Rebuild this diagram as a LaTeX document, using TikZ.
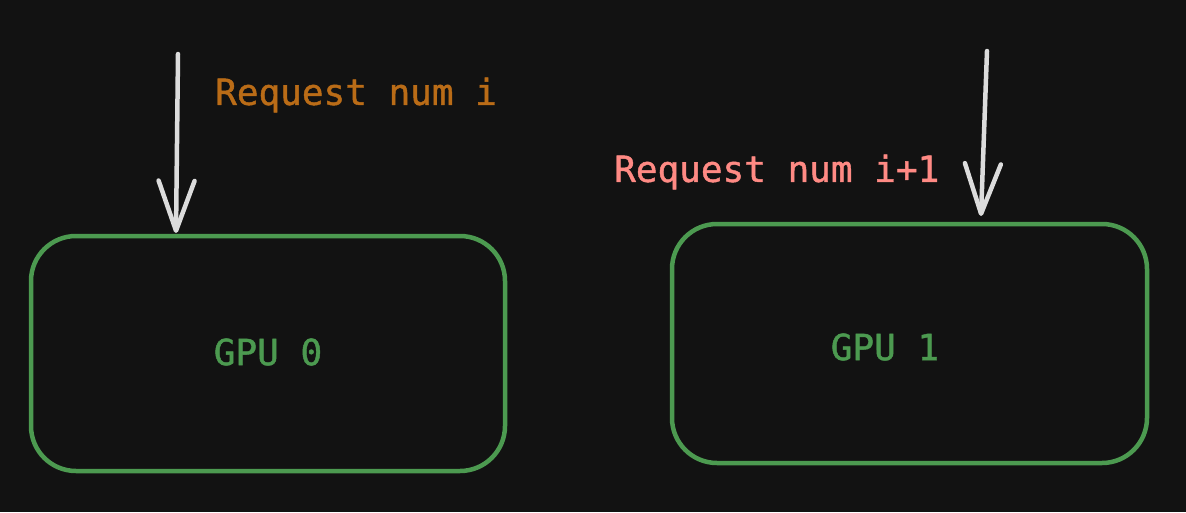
\documentclass[tikz,border=0pt]{standalone}
\usepackage{fontspec}
\setmonofont[FakeBold=1.2,AutoFakeBold=1.2]{DejaVu Sans Mono}
\usetikzlibrary{arrows.meta}
\definecolor{bg}{HTML}{121212}
\definecolor{gpugreen}{HTML}{4C9A50}
\definecolor{reqorange}{HTML}{BA6C17}
\definecolor{reqpink}{HTML}{FF8A84}
\definecolor{arrowgray}{HTML}{DCDCDC}
\tikzset{
  gpubox/.style={draw=gpugreen, line width=4.5pt, rounded corners=45pt},
  txt/.style={font=\ttfamily\bfseries\fontsize{36}{40}\selectfont, inner sep=0pt},
  lbl/.style={txt, anchor=west},
  reqarrow/.style={draw=arrowgray, line width=4.5pt, line cap=round,
    -{Straight Barb[length=50pt, width=36pt, line width=4.5pt, round]}},
}
\begin{document}
\begin{tikzpicture}[x=1pt,y=-1pt]
  \fill[bg] (0,0) rectangle (1186,512);
  \useasboundingbox (0,0) rectangle (1186,512);
  \draw[gpubox] (31,236) rectangle (505,471);
  \draw[gpubox] (672,224) rectangle (1147,463);
  \node[txt, text=gpugreen] (g0) at (268,352) {GPU 0};
  \node[txt, text=gpugreen] (g1) at (885,347) {GPU 1};
  \coordinate (s0) at (178,54);
  \coordinate (e0) at (176,233);
  \coordinate (s1) at (987,51);
  \coordinate (e1) at (981,216);
  \draw[reqarrow] (s0) -- (e0);
  \draw[reqarrow] (s1) -- (e1);
  \node[lbl, text=reqorange] (r0) at (215,95) {Request num i};
  \node[lbl, text=reqpink] (r1) at (614,172) {Request num i+1};
\end{tikzpicture}
\end{document}
